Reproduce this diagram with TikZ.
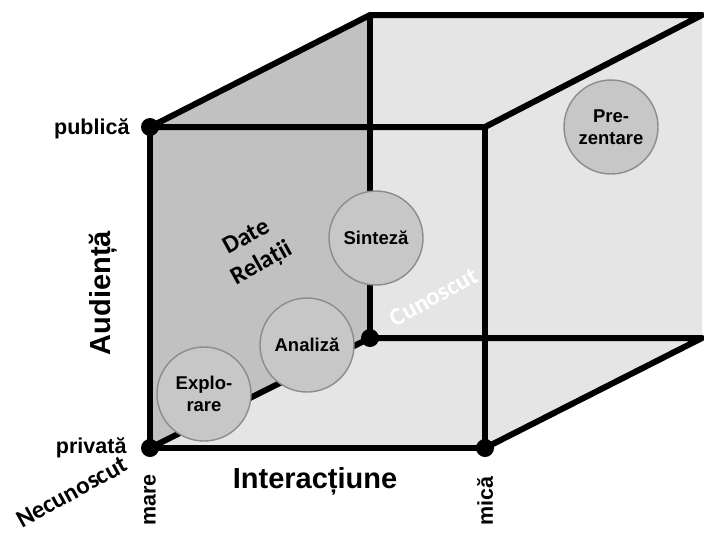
\documentclass[tikz,border=0pt]{standalone}
\usepackage{fontspec}
\setmainfont{Liberation Sans}
\newfontfamily\calibri{Carlito}
\definecolor{faceL}{RGB}{193,193,193}
\definecolor{faceR}{RGB}{229,229,229}
\definecolor{ballfill}{RGB}{199,199,199}
\definecolor{ballline}{RGB}{140,140,140}
\begin{document}
\begin{tikzpicture}[x=1pt,y=-1pt,
  edge/.style={line width=6pt, line join=round, line cap=butt},
  dot/.style={circle, fill=black, minimum size=18pt, inner sep=0pt},
  ball/.style={circle, fill=ballfill, draw=ballline, line width=1.4pt, minimum size=94pt, inner sep=0pt, align=center, font=\bfseries\fontsize{18.5}{22}\selectfont},
  axislbl/.style={font=\bfseries\fontsize{21.5}{24}\selectfont},
  bigaxis/.style={font=\bfseries\fontsize{29}{32}\selectfont},
  diaglbl/.style={font=\calibri\bfseries\fontsize{25}{28}\selectfont, rotate=29, inner sep=1pt}
]
\useasboundingbox (0,0) rectangle (704,533);
% corners
\coordinate (ftl) at (150,127);
\coordinate (ftr) at (485,127);
\coordinate (fbl) at (150,448);
\coordinate (fbr) at (485,448);
\coordinate (btl) at (370,15);
\coordinate (btr) at (702,15);
\coordinate (bbl) at (370,338);
\coordinate (bbr) at (702,338);
% fills
\fill[faceR] (ftl) -- (btl) -- (btr) -- (bbr) -- (fbr) -- (fbl) -- cycle;
\fill[faceL] (ftl) -- (btl) -- (bbl) -- (fbl) -- cycle;
% dots
\node[dot] (pub) at (ftl) {};
\node[dot] (priv) at (fbl) {};
\node[dot] (mica) at (fbr) {};
\node[dot] (cun) at (bbl) {};
% edges
\draw[edge] (pub.center) -- (btl) -- (btr) -- (ftr) -- (pub.center);
\draw[edge] (btl) -- (cun.center);
\draw[edge] (cun.center) -- (bbr) -- (mica.center);
\draw[edge] (ftr) -- (mica.center);
\draw[edge] (pub.center) -- (priv.center) -- (mica.center);
\draw[edge] (priv.center) -- (cun.center);
% balls
\node[ball] (sint) at (376,238) {Sinteză};
\node[ball] (prez) at (611,127) {Pre-\\zentare};
\node[ball] (anal) at (307,345) {Analiză};
\node[ball] (expl) at (204,394) {Explo-\\rare};
% labels
\node[axislbl, anchor=east] (lpub) at (133,129) {publică};
\node[axislbl, anchor=east] (lpriv) at (130,448) {privată};
\node[bigaxis, rotate=90] (laud) at (103,293) {Audiență};
\node[bigaxis] (lint) at (315,481) {Interacțiune};
\node[axislbl, rotate=90] (lmare) at (150,500) {mare};
\node[axislbl, rotate=90] (lmica) at (485,501) {mică};
\node[diaglbl] (lnec) at (72,492) {Necunoscut};
\node[diaglbl, text=white] (lcun) at (434,297) {Cunoscut};
\node[diaglbl] (ldate) at (246,236) {Date};
\node[diaglbl] (lrel) at (262,264) {Relații};
\end{tikzpicture}
\end{document}
